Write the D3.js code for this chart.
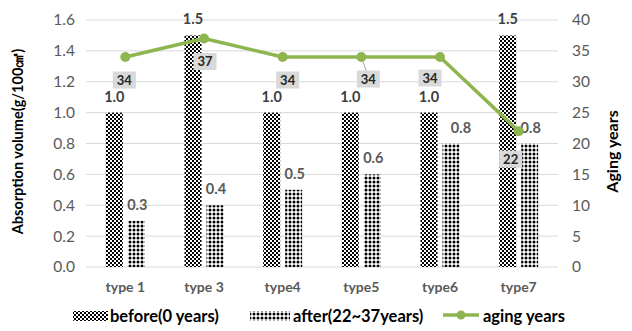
<!DOCTYPE html>
<html>
<head>
<meta charset="utf-8">
<script src="https://cdn.jsdelivr.net/npm/d3@7"></script>
<style>
  html, body { margin: 0; padding: 0; background: #fff; }
  svg { display: block; font-family: Lato, "Open Sans", sans-serif; }
</style>
</head>
<body>
<svg id="chart" width="632" height="331"></svg>
<script>
// Chart data
const categories = ["type 1", "type 3", "type4", "type5", "type6", "type7"];
const before = [1.0, 1.5, 1.0, 1.0, 1.0, 1.5];
const after = [0.3, 0.4, 0.5, 0.6, 0.8, 0.8];
const agingYears = [34, 37, 34, 34, 34, 22];
const leftTicks = [0.0, 0.2, 0.4, 0.6, 0.8, 1.0, 1.2, 1.4, 1.6];
const rightTicks = [0, 5, 10, 15, 20, 25, 30, 35, 40];
const seriesNames = ["before(0 years)", "after(22~37years)", "aging years"];

// Label placement offsets for the aging-year call-outs (relative to the point)
const calloutOffsets = [[-1, 23], [1, 23], [5, 23], [7, 22], [-10, 21], [-8, 28]];

const svg = d3.select("#chart");
const W = 632, H = 331;
const m = { left: 86, right: 74, top: 20, bottom: 64 };

const x0 = d3.scaleBand().domain(categories).range([m.left, W - m.right]).paddingInner(0).paddingOuter(0);
const yL = d3.scaleLinear().domain([0, 1.6]).range([H - m.bottom, m.top]);
const yR = d3.scaleLinear().domain([0, 40]).range([H - m.bottom, m.top]);

const barW = 17, gap = 5;
const green = "#8fb550";
const tickColor = "#595959";
const font = "Lato, 'Open Sans', sans-serif";

// Fill patterns
const defs = svg.append("defs");
const chk = defs.append("pattern").attr("id", "checker").attr("patternUnits", "userSpaceOnUse")
  .attr("width", 4).attr("height", 4);
chk.append("rect").attr("width", 4).attr("height", 4).attr("fill", "#fff");
chk.append("rect").attr("width", 2).attr("height", 2).attr("fill", "#000");
chk.append("rect").attr("x", 2).attr("y", 2).attr("width", 2).attr("height", 2).attr("fill", "#000");

const dots = defs.append("pattern").attr("id", "dots").attr("patternUnits", "userSpaceOnUse")
  .attr("width", 4).attr("height", 4);
dots.append("rect").attr("width", 4).attr("height", 4).attr("fill", "#fff");
dots.append("circle").attr("cx", 2).attr("cy", 2).attr("r", 1.5).attr("fill", "#000");

// Gridlines
svg.append("g").selectAll("line").data(leftTicks).join("line")
  .attr("x1", m.left).attr("x2", W - m.right)
  .attr("y1", d => yL(d)).attr("y2", d => yL(d))
  .attr("stroke", "#d9d9d9").attr("stroke-width", 1);

// Left axis
const axL = svg.append("g").attr("transform", `translate(${m.left},0)`)
  .call(d3.axisLeft(yL).tickValues(leftTicks).tickFormat(d3.format(".1f")).tickSize(0).tickPadding(11));
axL.select(".domain").remove();
axL.selectAll("text").attr("fill", tickColor).style("font-size", "15.5px").style("font-family", font);

// Right axis
const axR = svg.append("g").attr("transform", `translate(${W - m.right},0)`)
  .call(d3.axisRight(yR).tickValues(rightTicks).tickSize(0).tickPadding(14));
axR.select(".domain").remove();
axR.selectAll("text").attr("fill", tickColor).style("font-size", "15.5px").style("font-family", font);

// Category axis
const axX = svg.append("g").attr("transform", `translate(0,${H - m.bottom})`)
  .call(d3.axisBottom(x0).tickSize(0).tickPadding(15));
axX.select(".domain").remove();
axX.selectAll("text").attr("fill", tickColor).style("font-size", "14px").style("font-weight", "bold")
  .style("font-family", font);

const cx = c => x0(c) + x0.bandwidth() / 2;

// Bars
svg.append("g").selectAll("rect").data(categories).join("rect")
  .attr("x", c => cx(c) - gap / 2 - barW)
  .attr("y", (c, i) => yL(before[i]))
  .attr("width", barW)
  .attr("height", (c, i) => yL(0) - yL(before[i]))
  .attr("fill", "url(#checker)");

svg.append("g").selectAll("rect").data(categories).join("rect")
  .attr("x", c => cx(c) + gap / 2)
  .attr("y", (c, i) => yL(after[i]))
  .attr("width", barW)
  .attr("height", (c, i) => yL(0) - yL(after[i]))
  .attr("fill", "url(#dots)");

// Bar value labels
svg.append("g").selectAll("text").data(categories).join("text")
  .attr("x", c => cx(c) - gap / 2 - barW / 2)
  .attr("y", (c, i) => yL(before[i]) - 11)
  .attr("text-anchor", "middle")
  .attr("fill", "#404040").style("font-size", "14.5px").style("font-weight", "bold")
  .text((c, i) => d3.format(".1f")(before[i]));

svg.append("g").selectAll("text").data(categories).join("text")
  .attr("x", (c, i) => cx(c) + gap / 2 + barW / 2 + (i === 4 ? 10 : 1))
  .attr("y", (c, i) => yL(after[i]) - 11)
  .attr("text-anchor", "middle")
  .attr("fill", tickColor).style("font-size", "14.5px").style("font-weight", "bold")
  .text((c, i) => d3.format(".1f")(after[i]));

// Aging-years line
const line = d3.line().x((d, i) => cx(categories[i])).y(d => yR(d));
svg.append("path").datum(agingYears).attr("d", line)
  .attr("fill", "none").attr("stroke", green).attr("stroke-width", 3.5).attr("stroke-linejoin", "round");

// Leader line for the type5 call-out
svg.append("line")
  .attr("x1", cx(categories[3])).attr("y1", yR(agingYears[3]))
  .attr("x2", cx(categories[3]) + calloutOffsets[3][0] - 2).attr("y2", yR(agingYears[3]) + calloutOffsets[3][1] - 8)
  .attr("stroke", "#a6a6a6").attr("stroke-width", 1);

svg.append("g").selectAll("circle").data(agingYears).join("circle")
  .attr("cx", (d, i) => cx(categories[i])).attr("cy", d => yR(d)).attr("r", 5)
  .attr("fill", green);

// Aging-years call-outs
const callouts = svg.append("g").selectAll("g").data(agingYears).join("g")
  .attr("transform", (d, i) => `translate(${cx(categories[i]) + calloutOffsets[i][0]},${yR(d) + calloutOffsets[i][1]})`);
callouts.append("rect").attr("x", -11.5).attr("y", -8.5).attr("width", 23).attr("height", 17).attr("fill", "#d9d9d9");
callouts.append("text").attr("text-anchor", "middle").attr("dy", "0.36em")
  .attr("fill", "#262626").style("font-size", "13px").style("font-weight", "bold")
  .text(d => d);

// Axis titles
svg.append("text")
  .attr("transform", `translate(23,${(m.top + H - m.bottom) / 2 - 2}) rotate(-90)`)
  .attr("text-anchor", "middle").attr("fill", "#000")
  .style("font-size", "14.5px").style("font-weight", "bold")
  .text("Absorption volume(g/100㎠)");
svg.append("text")
  .attr("transform", `translate(618,${(m.top + H - m.bottom) / 2 + 8}) rotate(-90)`)
  .attr("text-anchor", "middle").attr("fill", "#000")
  .style("font-size", "16px").style("font-weight", "bold")
  .text("Aging years");

// Legend
const ly = 316;
const legend = svg.append("g").style("font-family", font);
legend.append("rect").attr("x", 73).attr("y", ly - 5).attr("width", 35).attr("height", 10).attr("fill", "url(#checker)");
legend.append("text").attr("x", 110).attr("y", ly).attr("dy", "0.35em")
  .style("font-size", "16.5px").style("font-weight", "bold").attr("fill", "#000").text(seriesNames[0]);
legend.append("rect").attr("x", 250).attr("y", ly - 5).attr("width", 40).attr("height", 10).attr("fill", "url(#dots)");
legend.append("text").attr("x", 293).attr("y", ly).attr("dy", "0.35em")
  .style("font-size", "16.5px").style("font-weight", "bold").attr("fill", "#000").text(seriesNames[1]);
legend.append("line").attr("x1", 443).attr("x2", 479).attr("y1", ly - 1).attr("y2", ly - 1)
  .attr("stroke", green).attr("stroke-width", 3.5);
legend.append("circle").attr("cx", 461).attr("cy", ly - 1).attr("r", 4.5).attr("fill", green);
legend.append("text").attr("x", 483).attr("y", ly).attr("dy", "0.35em")
  .style("font-size", "16.5px").style("font-weight", "bold").attr("fill", "#000").text(seriesNames[2]);
</script>
</body>
</html>
